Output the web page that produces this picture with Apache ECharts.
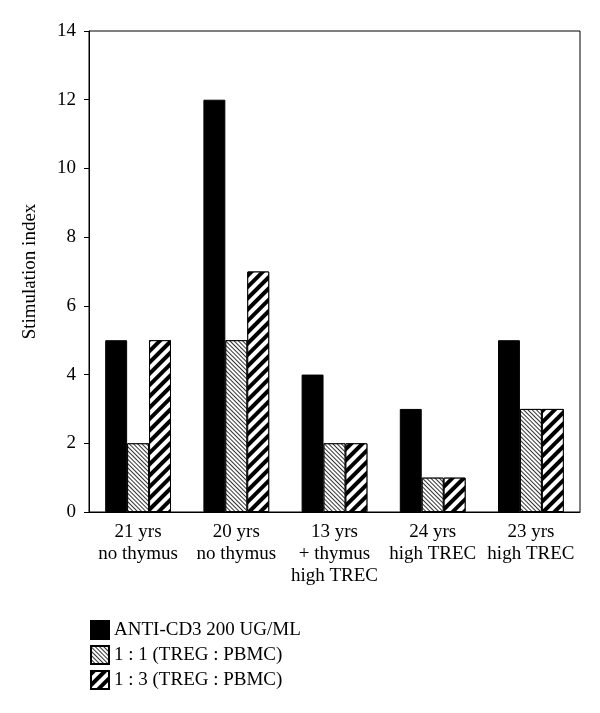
<!DOCTYPE html>
<html><head><meta charset="utf-8">
<script src="https://cdn.jsdelivr.net/npm/echarts@6/dist/echarts.min.js"></script>
<style>html,body{margin:0;padding:0;background:#fff}#c{width:600px;height:713px}</style>
</head><body><div id="c"></div>
<script>
const categories = ['21 yrs\nno thymus', '20 yrs\nno thymus', '13 yrs\n+ thymus\nhigh TREC', '24 yrs\nhigh TREC', '23 yrs\nhigh TREC'];
const seriesNames = ['ANTI-CD3 200 UG/ML', '1 : 1 (TREG : PBMC)', '1 : 3 (TREG : PBMC)'];
const antiCD3 = [5, 12, 4, 3, 5];
const ratio11 = [2, 5, 2, 1, 3];
const ratio13 = [5, 7, 2, 1, 3];
const yTicks = {min: 0, max: 14, interval: 2};

const font = 'Liberation Serif';
const chart = echarts.init(document.getElementById('c'), null, {renderer: 'canvas'});
const fineHatch = {symbol: 'rect', color: '#333', backgroundColor: '#fff', dashArrayX: [1, 0], dashArrayY: [1, 2], rotation: Math.PI / 4, symbolSize: 1};
const thickStripe = {symbol: 'rect', color: '#000', backgroundColor: '#fff', dashArrayX: [1, 0], dashArrayY: [3.5, 3.5], rotation: -Math.PI / 4, symbolSize: 1};
const base = {type: 'bar', barGap: '0%', barCategoryGap: '33%'};
chart.setOption({
  animation: false,
  grid: {left: 89, right: 20, top: 31, bottom: 201, show: true, borderColor: '#000', borderWidth: 1},
  legend: {
    orient: 'vertical', left: 85, top: 615, itemWidth: 18, itemHeight: 18, itemGap: 5,
    icon: 'rect',
    textStyle: {fontFamily: font, fontSize: 19, color: '#000', padding: [0, 0, 0, 0]},
    data: seriesNames
  },
  xAxis: {
    type: 'category', data: categories,
    axisLine: {lineStyle: {color: '#000'}}, axisTick: {show: false},
    axisLabel: {fontFamily: font, fontSize: 19, color: '#000', lineHeight: 22, margin: 9, interval: 0}
  },
  yAxis: {
    type: 'value', min: yTicks.min, max: yTicks.max, interval: yTicks.interval,
    name: 'Stimulation index', nameLocation: 'middle', nameGap: 49, nameRotate: 90,
    nameTextStyle: {fontFamily: font, fontSize: 19, color: '#000'},
    axisLine: {show: true, lineStyle: {color: '#000'}},
    axisTick: {show: true, length: 5, lineStyle: {color: '#000'}},
    splitLine: {show: false},
    axisLabel: {fontFamily: font, fontSize: 19, color: '#000', margin: 13}
  },
  series: [
    Object.assign({}, base, {name: seriesNames[0], data: antiCD3, itemStyle: {color: '#000', borderColor: '#000', borderWidth: 1}}),
    Object.assign({}, base, {name: seriesNames[1], data: ratio11, itemStyle: {color: '#fff', borderColor: '#000', borderWidth: 1, decal: fineHatch}}),
    Object.assign({}, base, {name: seriesNames[2], data: ratio13, itemStyle: {color: '#fff', borderColor: '#000', borderWidth: 1, decal: thickStripe}})
  ]
});
</script></body></html>
